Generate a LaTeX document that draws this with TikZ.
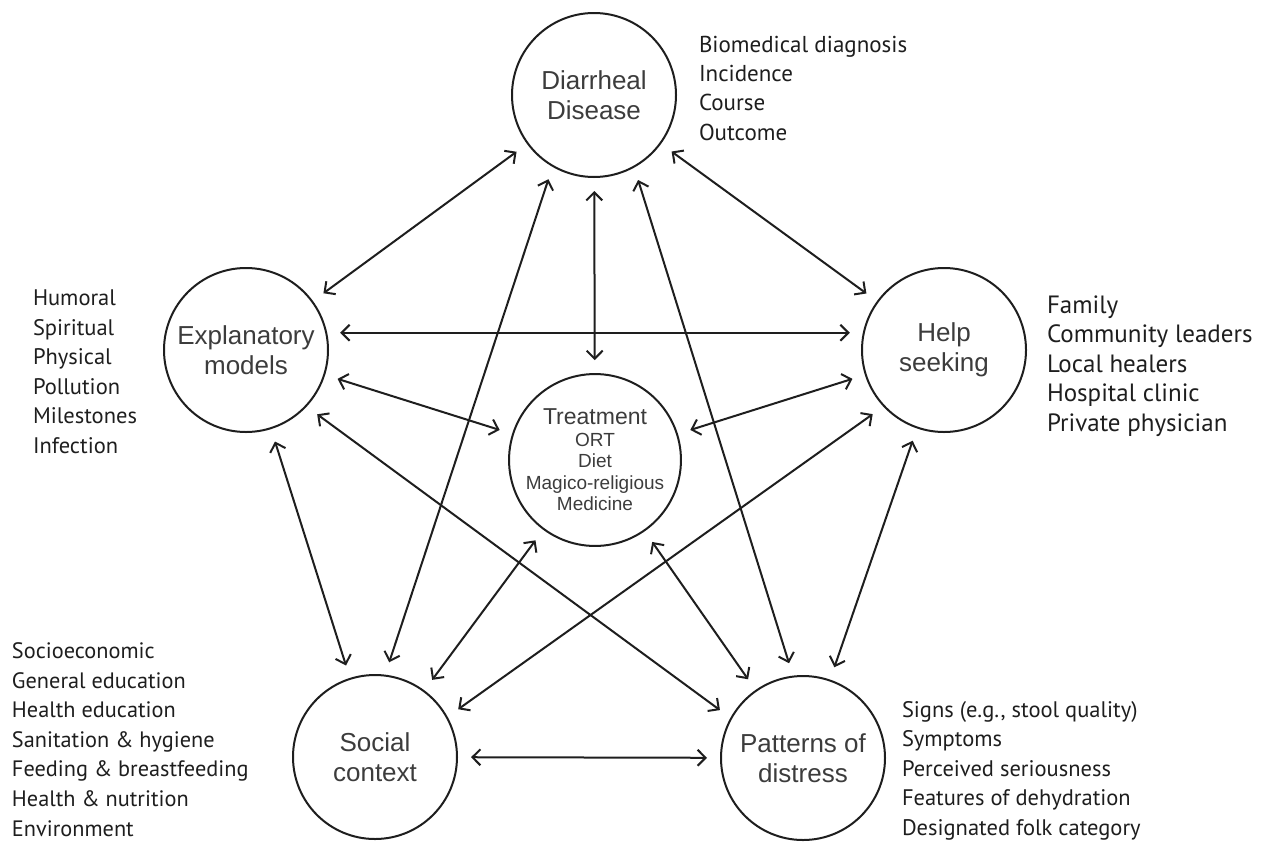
\documentclass[tikz,border=0pt]{standalone}
\usepackage{fontspec}
\setmainfont{Liberation Sans}
\newfontfamily\listfont{PT Sans}
\usetikzlibrary{arrows.meta}
\definecolor{inkgray}{HTML}{3C3C3C}
\definecolor{listink}{HTML}{1E1E1E}

\begin{document}
\begin{tikzpicture}[x=1pt, y=-1pt, line width=2pt, >={Straight Barb[length=8pt,width=16pt]},
  factor/.style={circle, draw=listink, minimum size=164pt, inner sep=0pt, align=center,
    text=inkgray, font=\fontsize{26}{30}\selectfont},
  items/.style={anchor=base west, align=left, inner sep=0pt, text=listink,
    font=\listfont\fontsize{22.5}{29.5}\selectfont},
  link/.style={<->, draw=listink, shorten >=13pt, shorten <=13pt}]

\useasboundingbox (0,0) rectangle (1266,841);

\node at (594,95) (dis) [factor] {Diarrheal\\Disease};
\node at (246,350) (expl) [factor] {Explanatory\\models};
\node at (944,350) (help) [factor] {Help\\seeking};
\node at (595,460) (treat) [factor, font=\fontsize{19}{21.5}\selectfont]
  {{\fontsize{23}{23}\selectfont Treatment}\\ORT\\Diet\\Magico-religious\\Medicine};
\node at (375,757) (soc) [factor] {Social\\context};
\node at (803,758) (pat) [factor] {Patterns of\\distress};

% lists beside the circles (placed at their last line)
\node at (698,140) (disitems) [items, font=\listfont\fontsize{23}{29.3}\selectfont] {Biomedical diagnosis\\Incidence\\Course\\Outcome};
\node at (32,453) (explitems) [items] {Humoral\\Spiritual\\Physical\\Pollution\\Milestones\\Infection};
\node at (1046,431) (helpitems) [items, font=\listfont\fontsize{25}{29.5}\selectfont] {Family\\Community leaders\\Local healers\\Hospital clinic\\Private physician};
\node at (11,836) (socitems) [items, font=\listfont\fontsize{22.3}{29.6}\selectfont] {Socioeconomic\\General education\\Health education\\Sanitation \& hygiene\\Feeding \& breastfeeding\\Health \& nutrition\\Environment};
\node at (901,835) (patitems) [items] {Signs (e.g., stool quality)\\Symptoms\\Perceived seriousness\\Features of dehydration\\Designated folk category};

\draw [link] (dis) to (expl);
\draw [link] (dis) to (help);
\draw [link] (dis) to (treat);
\draw [link] (dis.-120) to (soc.83);
\draw [link] (dis.-61) to (pat.97);

\draw [link] (expl.12) to (help.168);
\draw [link] (expl) to (treat);
\draw [link] (help) to (treat);
\draw [link] (expl) to (soc);
\draw [link] (expl.-43) to (pat.151);
\draw [link] (help.223) to (soc.29);
\draw [link] (help) to (pat);

\draw [link] (treat) to (soc);
\draw [link] (treat) to (pat);
\draw [link] (soc) to (pat);

\end{tikzpicture}
\end{document}
